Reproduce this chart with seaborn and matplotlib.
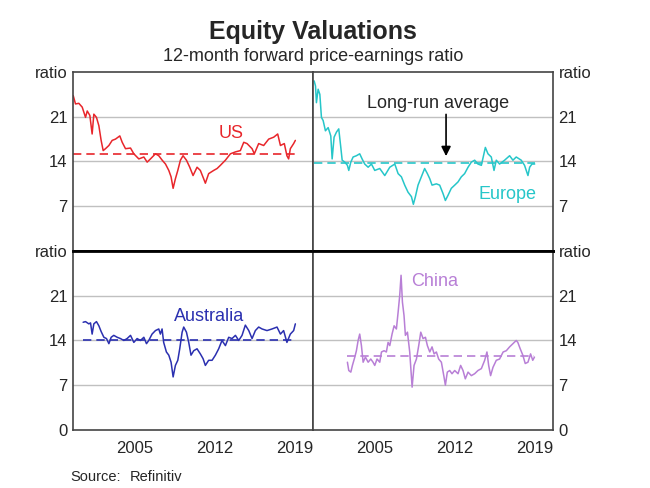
import matplotlib
matplotlib.use('Agg')
import numpy as np
import pandas as pd
import seaborn as sns
import matplotlib.pyplot as plt

# values (decimal years, P/E ratio)
us_year = [2000.07, 2000.27, 2000.56, 2000.86, 2001.15, 2001.30, 2001.53, 2001.73, 2001.88, 2002.11,
           2002.32, 2002.52, 2002.70, 2002.90, 2003.20, 2003.49, 2003.78, 2004.16, 2004.37, 2004.66,
           2005.10, 2005.39, 2005.83, 2006.27, 2006.56, 2006.85, 2007.29, 2007.58, 2007.88, 2008.17,
           2008.46, 2008.66, 2008.84, 2009.04, 2009.25, 2009.48, 2009.71, 2010.01, 2010.30, 2010.59,
           2010.94, 2011.23, 2011.52, 2011.67, 2011.96, 2012.40, 2012.70, 2012.99, 2013.43, 2013.87,
           2014.31, 2014.74, 2015.04, 2015.33, 2015.77, 2015.97, 2016.35, 2016.79, 2017.23, 2017.67,
           2018.02, 2018.26, 2018.60, 2018.83, 2018.98, 2019.13, 2019.42, 2019.57]
us_pe = [24.3, 23.0, 23.1, 22.5, 20.9, 21.9, 21.2, 18.3, 21.4, 20.9,
         19.6, 17.3, 15.7, 16.0, 16.5, 17.3, 17.5, 18.0, 17.0, 16.0,
         16.1, 15.2, 14.4, 14.7, 13.9, 14.4, 15.2, 14.9, 14.2, 13.6,
         12.6, 11.6, 9.8, 11.3, 12.6, 14.2, 14.9, 14.2, 13.1, 11.8,
         13.1, 12.6, 11.3, 10.6, 12.1, 12.6, 12.9, 13.4, 14.2, 15.2,
         15.5, 15.7, 17.0, 16.8, 16.0, 15.2, 16.8, 16.5, 17.5, 17.8,
         18.3, 16.5, 16.8, 14.9, 14.4, 16.0, 16.8, 17.3]
us_avg = 15.1

eu_year = [2000.15, 2000.27, 2000.35, 2000.50, 2000.65, 2000.79, 2000.94, 2001.14, 2001.38, 2001.61,
           2001.73, 2001.90, 2002.11, 2002.31, 2002.49, 2002.61, 2002.84, 2003.07, 2003.19, 2003.37,
           2003.57, 2003.86, 2004.15, 2004.36, 2004.59, 2004.89, 2005.18, 2005.47, 2005.91, 2006.35,
           2006.79, 2007.23, 2007.52, 2007.81, 2008.10, 2008.39, 2008.69, 2008.86, 2009.04, 2009.27,
           2009.56, 2009.85, 2010.09, 2010.30, 2010.50, 2010.88, 2011.17, 2011.46, 2011.67, 2011.90,
           2012.19, 2012.49, 2012.78, 2013.07, 2013.36, 2013.66, 2013.95, 2014.24, 2014.53, 2014.83,
           2015.18, 2015.41, 2015.70, 2015.94, 2016.14, 2016.43, 2016.87, 2017.31, 2017.60, 2017.89,
           2018.33, 2018.62, 2018.92, 2019.07, 2019.27, 2019.51]
eu_pe = [26.6, 25.8, 23.2, 25.3, 24.5, 20.9, 20.4, 18.8, 19.3, 18.0,
         14.4, 17.8, 18.6, 19.1, 16.2, 14.2, 13.9, 13.4, 12.6, 13.9,
         14.7, 14.9, 15.2, 14.4, 13.6, 13.1, 13.6, 12.6, 12.9, 11.8,
         13.1, 13.6, 12.1, 11.6, 10.3, 9.2, 8.5, 7.3, 8.5, 10.3,
         11.6, 12.9, 12.1, 11.3, 10.3, 10.5, 10.3, 9.0, 7.9, 8.7,
         9.8, 10.3, 10.8, 11.6, 12.1, 13.1, 13.9, 14.2, 13.6, 13.4,
         16.2, 15.2, 14.7, 12.6, 14.2, 13.6, 14.2, 14.9, 14.2, 14.7,
         14.2, 13.4, 11.8, 13.1, 13.6, 13.6]
eu_avg = 13.75

au_year = [2000.94, 2001.15, 2001.44, 2001.59, 2001.73, 2001.88, 2002.11, 2002.32, 2002.52, 2002.76,
           2002.99, 2003.20, 2003.40, 2003.63, 2003.93, 2004.22, 2004.51, 2004.80, 2005.10, 2005.39,
           2005.68, 2005.97, 2006.27, 2006.50, 2006.70, 2006.99, 2007.29, 2007.58, 2007.72, 2007.87,
           2008.01, 2008.25, 2008.46, 2008.66, 2008.84, 2009.04, 2009.25, 2009.42, 2009.63, 2009.77,
           2010.01, 2010.21, 2010.41, 2010.65, 2010.94, 2011.23, 2011.47, 2011.67, 2011.96, 2012.26,
           2012.55, 2012.84, 2013.13, 2013.43, 2013.72, 2014.01, 2014.31, 2014.60, 2014.89, 2015.18,
           2015.48, 2015.77, 2016.06, 2016.35, 2016.65, 2017.08, 2017.52, 2017.96, 2018.26, 2018.54,
           2018.83, 2019.13, 2019.42, 2019.57]
au_pe = [16.85, 16.95, 16.6, 16.75, 15.0, 16.6, 16.95, 16.3, 15.4, 14.5,
         14.3, 13.5, 14.5, 14.8, 14.5, 14.3, 14.0, 14.3, 14.8, 13.7,
         14.3, 14.0, 14.5, 13.5, 14.0, 15.0, 15.55, 15.8, 15.0, 15.8,
         13.7, 12.2, 11.7, 10.6, 8.3, 10.1, 10.9, 12.7, 15.3, 16.1,
         15.3, 13.7, 11.7, 12.4, 12.7, 11.9, 11.15, 10.1, 10.9, 10.9,
         11.7, 12.7, 14.0, 13.2, 14.5, 14.3, 14.8, 14.0, 14.8, 16.4,
         15.55, 14.3, 15.55, 16.1, 15.8, 15.55, 15.8, 16.1, 15.0, 15.55,
         13.7, 15.0, 15.55, 16.6]
au_avg = 14.15

cn_year = [2003.07, 2003.19, 2003.37, 2003.51, 2003.72, 2003.86, 2004.01, 2004.15, 2004.30, 2004.45,
           2004.65, 2004.89, 2005.12, 2005.32, 2005.47, 2005.67, 2005.91, 2006.06, 2006.29, 2006.49,
           2006.64, 2006.79, 2006.99, 2007.17, 2007.37, 2007.52, 2007.66, 2007.78, 2007.90, 2008.04,
           2008.16, 2008.34, 2008.54, 2008.75, 2008.92, 2009.13, 2009.33, 2009.51, 2009.71, 2009.92,
           2010.09, 2010.30, 2010.50, 2010.68, 2010.88, 2011.08, 2011.32, 2011.55, 2011.67, 2011.84,
           2012.05, 2012.25, 2012.49, 2012.78, 2013.01, 2013.22, 2013.42, 2013.66, 2013.95, 2014.24,
           2014.53, 2014.83, 2015.12, 2015.32, 2015.47, 2015.64, 2015.85, 2016.14, 2016.43, 2016.74,
           2017.02, 2017.31, 2017.60, 2017.89, 2018.03, 2018.24, 2018.47, 2018.68, 2018.92, 2019.15,
           2019.34, 2019.49]
cn_pe = [10.6, 9.3, 9.05, 10.1, 11.4, 12.4, 14.0, 15.0, 13.2, 10.6,
         11.4, 10.6, 11.1, 10.6, 10.1, 11.1, 10.6, 12.2, 12.4, 12.2,
         13.7, 13.2, 15.0, 16.3, 15.8, 18.4, 21.0, 24.2, 20.0, 17.9,
         14.8, 15.3, 12.2, 6.7, 10.1, 11.1, 13.2, 15.3, 14.3, 14.5,
         13.2, 12.2, 13.0, 11.9, 12.2, 11.1, 10.6, 8.3, 7.0, 9.05,
         9.3, 8.8, 9.3, 8.8, 10.1, 9.3, 8.0, 9.05, 8.5, 8.8,
         9.3, 9.6, 10.9, 12.2, 10.1, 8.5, 9.8, 10.9, 11.1, 12.2,
         12.4, 13.0, 13.5, 14.0, 13.7, 12.7, 11.7, 10.4, 10.6, 11.9,
         10.9, 11.4]
cn_avg = 11.5

y_ticks = [0, 7, 14, 21, 28]
year_labels = ['2005', '2012', '2019']

sns.set_style('white')
plt.rcParams['font.family'] = ['Liberation Sans', 'DejaVu Sans']

fig = plt.figure(figsize=(6.5, 4.88), dpi=100)
gs = fig.add_gridspec(2, 2, left=0.1123, right=0.8508, top=0.8525, bottom=0.1189,
                      wspace=0, hspace=0)
axes = [[fig.add_subplot(gs[r, c]) for c in range(2)] for r in range(2)]

panels = [
    (axes[0][0], us_year, us_pe, us_avg, '#e8262b', 'US', (2013.96, 18.4)),
    (axes[0][1], eu_year, eu_pe, eu_avg, '#26c6c9', 'Europe', (2017.1, 8.8)),
    (axes[1][0], au_year, au_pe, au_avg, '#2b30b0', 'Australia', (2012.0, 17.7)),
    (axes[1][1], cn_year, cn_pe, cn_avg, '#b87fd6', 'China', (2010.76, 23.2)),
]

for i, (ax, yrs, vals, avg, col, name, pos) in enumerate(panels):
    df = pd.DataFrame({'year': yrs, 'pe': vals})
    sns.lineplot(data=df, x='year', y='pe', color=col, lw=1.1, ax=ax)
    ax.hlines(avg, yrs[0], yrs[-1], colors=col, linestyles=(0, (5, 3)), lw=1.2)
    for g in [7, 14, 21]:
        ax.axhline(g, color='#c0c0c0', lw=1, zorder=0)
    ax.text(pos[0], pos[1], name, color=col, fontsize=13, ha='center', va='center')
    ax.set_xlim(2000.05, 2021.12)
    ax.set_ylim(0, 28)
    ax.set_xlabel('')
    ax.set_ylabel('')
    row, colm = divmod(i, 2)
    ax.set_yticks(y_ticks)
    labs = ['0' if row == 1 else '', '7', '14', '21', 'ratio']
    ax.set_yticklabels(labs, fontsize=12)
    if colm == 1:
        ax.yaxis.tick_right()
    ax.tick_params(axis='y', length=0, pad=4)
    if row == 1:
        ax.set_xticks([2005.5, 2012.5, 2019.5])
        ax.set_xticklabels(year_labels, fontsize=12)
        ax.set_xticks(np.arange(2001, 2022), minor=True)
        ax.tick_params(axis='x', which='major', length=0, pad=8)
        ax.tick_params(axis='x', which='minor', direction='in', length=5,
                       color='#333333', width=0.8)
    else:
        ax.set_xticks([])
    for s in ax.spines.values():
        s.set_color('#444444')
        s.set_linewidth(1.2)
    if row == 0:
        ax.spines['bottom'].set_color('black')
        ax.spines['bottom'].set_linewidth(2)
    else:
        ax.spines['top'].set_color('black')
        ax.spines['top'].set_linewidth(2)

ax_eu = axes[0][1]
ax_eu.text(2011.0, 23.1, 'Long-run average', fontsize=13, ha='center', va='center')
ax_eu.annotate('', xy=(2011.73, 14.4), xytext=(2011.73, 21.8),
               arrowprops=dict(arrowstyle='-|>', color='black', lw=1.2,
                               mutation_scale=14))

fig.text(0.4815, 0.935, 'Equity Valuations', fontsize=18, fontweight='bold',
         ha='center', va='center')
fig.text(0.4815, 0.885, '12-month forward price-earnings ratio', fontsize=13,
         ha='center', va='center')
fig.text(0.108, 0.022, 'Source:', fontsize=10.5, ha='left', va='center')
fig.text(0.2, 0.022, 'Refinitiv', fontsize=10.5, ha='left', va='center')

plt.savefig('out.png', dpi=100)
plt.close()
